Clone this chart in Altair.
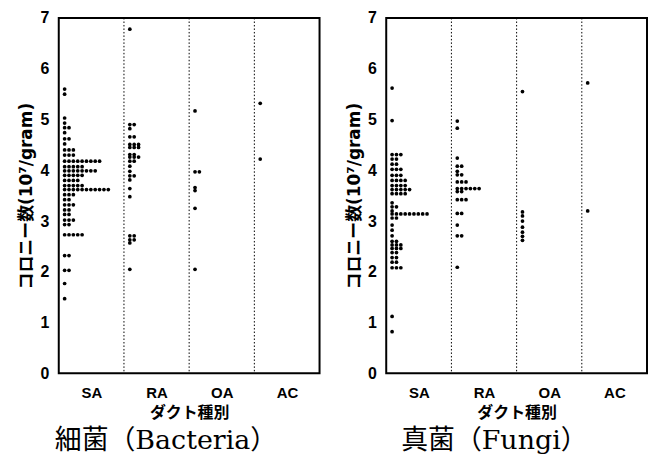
import json
import altair as alt
import pandas as pd

CATEGORIES = ["SA", "RA", "OA", "AC"]
Y_TICKS = [0, 1, 2, 3, 4, 5, 6, 7]

BACTERIA_SA = [5.6, 5.5, 5.03, 4.93, 4.84, 4.84, 4.74, 4.62, 4.62, 4.52,
               4.4, 4.4, 4.4, 4.3, 4.3, 4.3,
               4.18, 4.18, 4.18, 4.18, 4.18, 4.18, 4.18, 4.18, 4.18,
               4.07, 4.07, 4.07, 4.07, 4.07,
               3.99, 3.99, 3.99, 3.99, 3.99, 3.99, 3.99, 3.99,
               3.9, 3.9, 3.9, 3.9, 3.9,
               3.8, 3.8, 3.8, 3.8,
               3.7, 3.7, 3.7, 3.7, 3.7,
               3.62, 3.62, 3.62, 3.62, 3.62, 3.62, 3.62, 3.62, 3.62, 3.62, 3.62,
               3.52, 3.52, 3.52, 3.42, 3.42, 3.32, 3.32, 3.32, 3.22, 3.22,
               3.13, 3.13, 3.02, 3.02, 3.02, 2.93, 2.93,
               2.73, 2.73, 2.73, 2.73, 2.73, 2.32, 2.32, 2.03, 2.03, 1.77, 1.47]
BACTERIA_RA = [6.78, 4.9, 4.9, 4.82, 4.66, 4.66, 4.51, 4.51, 4.51, 4.45, 4.45, 4.45,
               4.31, 4.31, 4.26, 4.26, 4.26, 4.18, 4.18, 4.08, 3.98, 3.89, 3.89,
               3.81, 3.64, 3.48, 2.71, 2.71, 2.63, 2.63, 2.57, 2.05]
BACTERIA_OA = [5.17, 3.97, 3.97, 3.66, 3.6, 3.25, 2.05]
BACTERIA_AC = [5.32, 4.22]

FUNGI_SA = [5.62, 4.98, 4.31, 4.31, 4.31, 4.22, 4.22, 4.12, 4.12, 4.02, 4.02, 4.02,
            3.9, 3.9, 3.9, 3.8, 3.8, 3.8, 3.8, 3.7, 3.7, 3.7, 3.7,
            3.62, 3.62, 3.62, 3.62, 3.62, 3.54, 3.54, 3.54, 3.54,
            3.36, 3.28, 3.28, 3.2,
            3.14, 3.14, 3.14, 3.14, 3.14, 3.14, 3.14, 3.14, 3.14,
            3.06, 3.06, 2.92, 2.82, 2.71, 2.6, 2.6, 2.53, 2.53, 2.53,
            2.46, 2.46, 2.46, 2.38, 2.38, 2.28, 2.28, 2.19, 2.19,
            2.08, 2.08, 2.08, 1.12, 0.82]
FUNGI_RA = [4.97, 4.83, 4.24, 4.08, 4.08, 3.98, 3.91, 3.91, 3.77, 3.77, 3.77,
            3.64, 3.64, 3.64, 3.64, 3.64, 3.64, 3.58, 3.58, 3.42, 3.42, 3.42,
            3.15, 3.15, 2.92, 2.71, 2.71, 2.09]
FUNGI_OA = [5.55, 3.18, 3.1, 3.0, 2.88, 2.78, 2.7, 2.62]
FUNGI_AC = [5.72, 3.2]

BACTERIA = {"SA": BACTERIA_SA, "RA": BACTERIA_RA, "OA": BACTERIA_OA, "AC": BACTERIA_AC}
FUNGI = {"SA": FUNGI_SA, "RA": FUNGI_RA, "OA": FUNGI_OA, "AC": FUNGI_AC}

Y_TITLE = "コロニー数(10⁷/gram)"
X_TITLE = "ダクト種別"

PANEL_W = 262
PANEL_H = 357


def build_df(series):
    rows = []
    for ci, cat in enumerate(CATEGORIES):
        for v in series[cat]:
            rows.append({"cat": cat, "ci": ci, "value": v})
    return pd.DataFrame(rows)


def panel(series, caption, dx):
    df = build_df(series)
    n = len(CATEGORIES)
    xscale = alt.Scale(domain=[0, n], nice=False, zero=False)
    yscale = alt.Scale(domain=[0, 7], nice=False)
    x_axis = alt.Axis(
        values=[i + 0.5 for i in range(n)],
        labelExpr=f"{json.dumps(CATEGORIES)}[floor(datum.value)]",
        title=X_TITLE, grid=False, ticks=False, domain=False,
        labelFont="Liberation Sans", labelFontWeight="bold", labelFontSize=15,
        labelColor="black", labelPadding=12,
        titleFont="Noto Sans CJK JP", titleFontWeight="bold", titleFontSize=16,
        titleColor="black", titlePadding=4,
    )
    y_axis = alt.Axis(
        values=Y_TICKS, title=Y_TITLE, grid=False, ticks=False, domain=False,
        labelFont="Liberation Sans", labelFontWeight="bold", labelFontSize=16,
        labelColor="black", labelPadding=10,
        titleFont="DejaVu Sans, Noto Sans CJK JP", titleFontWeight="bold",
        titleFontSize=17, titleColor="black", titlePadding=4,
    )
    points = (
        alt.Chart(df)
        .transform_window(rank="row_number()", groupby=["ci", "value"])
        .transform_calculate(xpos="datum.ci + 0.09 + 0.067 * (datum.rank - 1)")
        .mark_circle(size=14, color="black", opacity=1)
        .encode(
            x=alt.X("xpos:Q", scale=xscale, axis=x_axis, title=X_TITLE),
            y=alt.Y("value:Q", scale=yscale, axis=y_axis, title=Y_TITLE),
        )
    )
    bounds = pd.DataFrame({"b": list(range(1, n))})
    dividers = (
        alt.Chart(bounds)
        .mark_rule(color="black", strokeDash=[1.5, 2], strokeWidth=1)
        .encode(x=alt.X("b:Q", scale=xscale, axis=x_axis, title=X_TITLE))
    )
    return alt.layer(points, dividers).properties(
        width=PANEL_W, height=PANEL_H,
        title=alt.TitleParams(
            text=caption, orient="bottom", anchor="start", frame="group",
            font="DejaVu Serif, Noto Sans CJK JP", fontSize=27, fontWeight="normal",
            color="black", offset=8, dx=dx,
        ),
    )


chart = (
    alt.hconcat(
        panel(BACTERIA, "細菌（Bacteria）", -4),
        panel(FUNGI, "真菌（Fungi）", 15),
        spacing=24,
    )
    .properties(padding={"left": 9, "top": 0, "right": 0, "bottom": 0})
    .configure(background="white")
    .configure_view(stroke="black", strokeWidth=2)
)

chart.save("out.html", embed_options={"renderer": "svg", "actions": False})
